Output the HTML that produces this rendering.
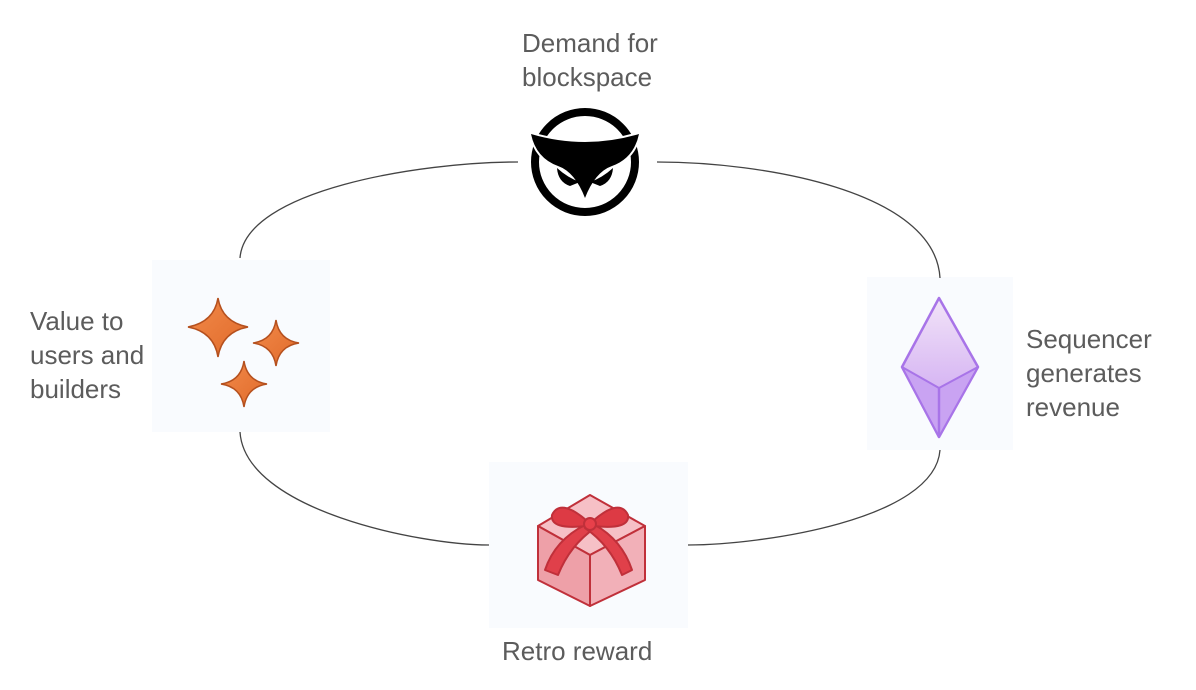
<!DOCTYPE html>
<html><head><style>
html,body{margin:0;padding:0;background:#fff;}
body{width:1196px;height:690px;position:relative;overflow:hidden;font-family:"Liberation Sans",sans-serif;}
.t{position:absolute;color:#5c5c5c;font-size:26px;line-height:34px;}
</style></head><body>
<svg width="1196" height="690" style="position:absolute;left:0;top:0">
<defs>
<linearGradient id="sp" x1="0" y1="0" x2="1" y2="1"><stop offset="0" stop-color="#f28a4a"/><stop offset="1" stop-color="#e06a2a"/></linearGradient>
<linearGradient id="eth" x1="0" y1="0" x2="0" y2="1"><stop offset="0" stop-color="#f2e4f8"/><stop offset="1" stop-color="#c79cf0"/></linearGradient>
</defs>
<rect x="152" y="260" width="178" height="172" fill="#f9fbfe"/>
<rect x="867" y="277" width="146" height="173" fill="#f9fbfe"/>
<rect x="489" y="462" width="199" height="166" fill="#f9fbfe"/>
<g fill="none" stroke="#444" stroke-width="1.3">
<path d="M240 258 C245 190 420 162 518 162"/>
<path d="M657 162 C760 162 935 190 940 278"/>
<path d="M240 432 C245 510 420 545 489 545"/>
<path d="M688 545 C760 545 935 520 940 450"/>
</g>
<!-- owl -->
<circle cx="585" cy="162" r="50" fill="none" stroke="#000" stroke-width="8"/>
<path d="M531 134 Q585 150 639 134 Q634 158 612 166 Q595 172 585 198 Q575 172 558 166 Q536 158 531 134Z" fill="#000" stroke="#fff" stroke-width="4" paint-order="stroke"/>
<path d="M557 168 Q568 178 580 182 L570 186 Q558 182 557 168Z" fill="#000"/>
<path d="M613 168 Q602 178 590 182 L600 186 Q612 182 613 168Z" fill="#000"/>
<!-- sparkles -->
<g fill="url(#sp)" stroke="#b5501e" stroke-width="1.5">
<path d="M218 298 Q222 322 248 327 Q222 332 218 357 Q214 332 188 327 Q214 322 218 298Z"/>
<path d="M276 320 Q279 340 299 343 Q279 346 276 366 Q273 346 253 343 Q273 340 276 320Z"/>
<path d="M244 361 Q247 381 267 384 Q247 387 244 407 Q241 387 221 384 Q241 381 244 361Z"/>
</g>
<!-- eth -->
<g stroke="#a874e8" stroke-width="2.5" stroke-linejoin="round">
<path d="M939 298 L978 367 L939 437 L902 367Z" fill="url(#eth)"/>
<path d="M902 367 L939 388 L978 367 L939 437Z" fill="#c9a3f2" stroke-width="2"/>
<path d="M939 388 L939 437" fill="none"/>
</g>
<!-- gift -->
<g stroke="#c0303a" stroke-width="2" stroke-linejoin="round">
<path d="M590 495 L645 526 L590 555 L538 526Z" fill="#f6c0c6"/>
<path d="M538 526 L590 555 L590 606 L538 580Z" fill="#eea0a8"/>
<path d="M645 526 L590 555 L590 606 L645 580Z" fill="#f2b0b8"/>
<path d="M545 570 Q555 540 585 525 L595 528 Q570 545 558 575Z" fill="#e0404a"/>
<path d="M632 570 Q622 540 595 525 L585 528 Q610 545 622 575Z" fill="#e0404a"/>
<path d="M586 520 Q560 498 552 515 Q550 530 586 526Z" fill="#dd3a44"/>
<path d="M594 520 Q620 498 628 515 Q630 530 594 526Z" fill="#dd3a44"/>
<circle cx="590" cy="524" r="6" fill="#e8404a"/>
</g>
</svg>
<div class="t" style="left:522px;top:26px">Demand for<br>blockspace</div>
<div class="t" style="left:30px;top:304px">Value to<br>users and<br>builders</div>
<div class="t" style="left:1026px;top:322px">Sequencer<br>generates<br>revenue</div>
<div class="t" style="left:502px;top:634px">Retro reward</div>
</body></html>
